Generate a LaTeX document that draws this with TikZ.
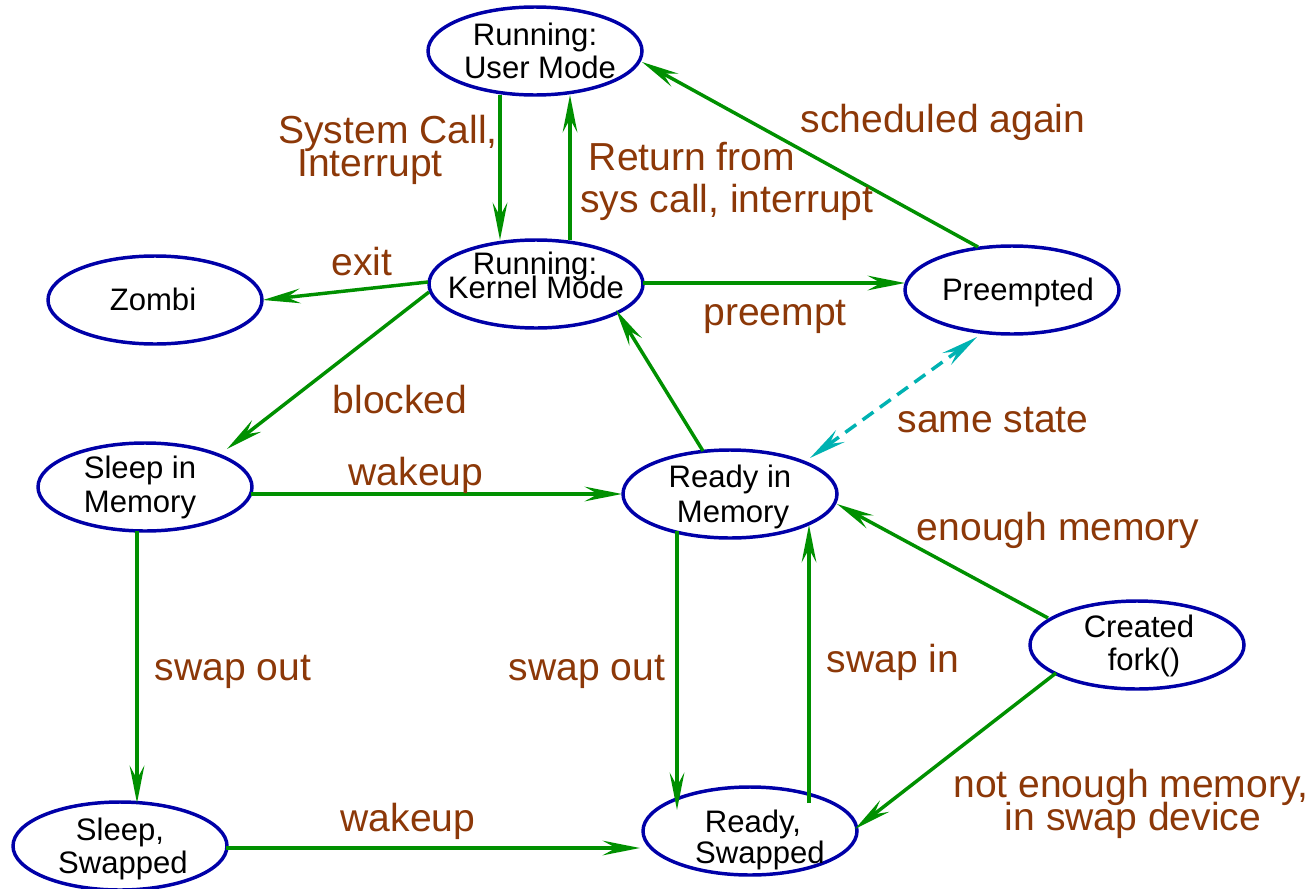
\documentclass[tikz,border=0pt]{standalone}
\usepackage{fontspec}
\setmainfont{Liberation Sans}
\usetikzlibrary{shapes.geometric,arrows.meta,calc}
\definecolor{stblue}{RGB}{0,0,168}
\definecolor{trgreen}{RGB}{0,144,0}
\definecolor{lblbrown}{RGB}{140,56,8}
\definecolor{samecyan}{RGB}{0,178,178}
\begin{document}
\begin{tikzpicture}[x=0.75pt,y=-0.75pt,
  state/.style={ellipse, draw=stblue, line width=2.6pt, minimum width=160.5pt, minimum height=66pt, inner sep=0pt},
  stxt/.style={anchor=base, font=\fontsize{23.3}{26}\selectfont, inner sep=0pt},
  lbl/.style={anchor=base, font=\fontsize{29.3}{34}\selectfont, text=lblbrown, inner sep=0pt},
  tr/.style={draw=trgreen, line width=2.6pt, -{Stealth[length=28pt,width=11pt,inset=10pt]}},
  same/.style={draw=samecyan, line width=2.6pt, dash pattern=on 10pt off 6pt,
    {Stealth[length=28pt,width=11pt,inset=10pt]}-{Stealth[length=28pt,width=11pt,inset=10pt]}}
]
\path[use as bounding box] (0,0) rectangle (1314,889);

% states
\node[state] (um) at (535,51) {};
\node[state] (km) at (536,284) {};
\node[state] (zb) at (155,300) {};
\node[state] (pe) at (1012,290) {};
\node[state] (sm) at (145,487) {};
\node[state] (rm) at (730,494) {};
\node[state] (cr) at (1137,645) {};
\node[state] (ss) at (120,846) {};
\node[state] (rs) at (750,831) {};

% state texts
\node[stxt] (um1) at (535,45) {Running:};
\node[stxt] (um2) at (540,78) {User Mode};
\node[stxt] (km1) at (535,274) {Running:};
\node[stxt] (km2) at (536,298) {Kernel Mode};
\node[stxt] (zb1) at (153,310) {Zombi};
\node[stxt] (pe1) at (1018,300) {Preempted};
\node[stxt] (sm1) at (140,478) {Sleep in};
\node[stxt] (sm2) at (140,512) {Memory};
\node[stxt] (rm1) at (730,487) {Ready in};
\node[stxt] (rm2) at (733,522) {Memory};
\node[stxt] (cr1) at (1139,637) {Created};
\node[stxt] (cr2) at (1144,670) {fork()};
\node[stxt] (ss1) at (120,840) {Sleep,};
\node[stxt] (ss2) at (123,873) {Swapped};
\node[stxt] (rs1) at (753,832) {Ready,};
\node[stxt] (rs2) at (760,863) {Swapped};

% transitions
\draw[tr] ($(um)+(-35,44)$) -- ($(km)+(-36,-44)$);
\draw[tr] ($(km)+(34,-44)$) -- ($(um)+(35,44)$);
\draw[tr] ($(km)+(-108,-2)$) -- ($(zb)+(108,0)$);
\draw[tr] ($(km)+(107,-1)$) -- ($(pe)+(-107,-7)$);
\draw[tr] ($(pe)+(-34,-43)$) -- ($(um)+(107,11)$);
\draw[tr] ($(km)+(-107,8)$) -- ($(sm)+(82,-38)$);
\draw[tr] ($(rm)+(-27,-43)$) -- ($(km)+(80,26)$);
\draw[same] ($(pe)+(-35,47)$) -- ($(rm)+(80,-36)$);
\draw[tr] ($(sm)+(106,7)$) -- ($(rm)+(-108,0)$);
\draw[tr] ($(sm)+(-8,44)$) -- ($(ss)+(17,-43)$);
\draw[tr] ($(rm)+(-53,37)$) -- ($(rs)+(-73,-21)$);
\draw[tr] ($(rs)+(59,-28)$) -- ($(rm)+(79,31)$);
\draw[tr] ($(cr)+(-89,-27)$) -- ($(rm)+(107,10)$);
\draw[tr] ($(cr)+(-81,28)$) -- ($(rs)+(105,-2)$);
\draw[tr] ($(ss)+(106,2)$) -- ($(rs)+(-110,17)$);

% labels
\node[lbl] (l1a) at (388,143) {System Call,};
\node[lbl] (l1b) at (370,176) {Interrupt};
\node[lbl] (l2a) at (692,170) {Return from};
\node[lbl] (l2b) at (727,212) {sys call, interrupt};
\node[lbl] (l3) at (943,132) {scheduled again};
\node[lbl] (l4) at (362,275) {exit};
\node[lbl] (l5) at (775,325) {preempt};
\node[lbl] (l6) at (400,413) {blocked};
\node[lbl] (l7) at (993,432) {same state};
\node[lbl] (l8) at (416,485) {wakeup};
\node[lbl] (l9) at (1058,540) {enough memory};
\node[lbl] (l10) at (233,680) {swap out};
\node[lbl] (l11) at (587,680) {swap out};
\node[lbl] (l12) at (893,672) {swap in};
\node[lbl] (l13a) at (1131,797) {not enough memory,};
\node[lbl] (l13b) at (1133,830) {in swap device};
\node[lbl] (l14) at (408,831) {wakeup};
\end{tikzpicture}
\end{document}
